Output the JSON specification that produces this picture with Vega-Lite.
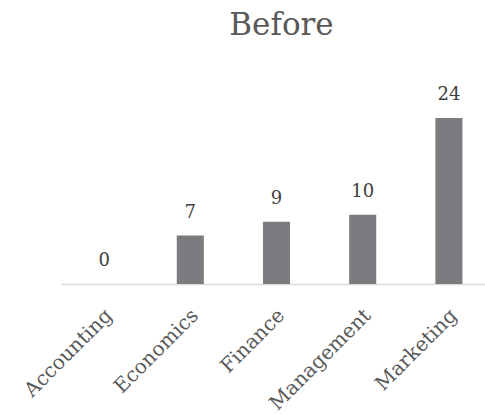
{
  "$schema": "https://vega.github.io/schema/vega-lite/v6.json",
  "autosize": "none",
  "width": 431,
  "height": 166,
  "padding": {"left": 61, "top": 118, "right": 0, "bottom": 131},
  "background": "white",
  "title": {
    "text": "Before",
    "font": "DejaVu Serif",
    "fontSize": 31,
    "fontWeight": "normal",
    "color": "#595959",
    "anchor": "middle",
    "baseline": "alphabetic",
    "frame": "group",
    "offset": 20,
    "dx": 5
  },
  "data": {
    "values": [
      {"dept": "Accounting", "count": 0},
      {"dept": "Economics", "count": 7},
      {"dept": "Finance", "count": 9},
      {"dept": "Management", "count": 10},
      {"dept": "Marketing", "count": 24}
    ]
  },
  "encoding": {
    "x": {
      "field": "dept",
      "type": "nominal",
      "sort": null,
      "scale": {"paddingInner": 0.686, "paddingOuter": 0.343},
      "axis": {
        "title": null,
        "labelAngle": -45,
        "labelAlign": "right",
        "labelBaseline": "middle",
        "labelFont": "DejaVu Serif",
        "labelFontSize": 20,
        "labelColor": "#595959",
        "labelPadding": 28,
        "labelOffset": 5,
        "labelOverlap": false,
        "ticks": false,
        "domainColor": "#d9d9d9",
        "domainWidth": 1.5,
        "grid": false
      }
    },
    "y": {
      "field": "count",
      "type": "quantitative",
      "scale": {"domain": [0, 24], "nice": false},
      "axis": null
    }
  },
  "layer": [
    {"mark": {"type": "bar", "color": "#7b7c80"}},
    {
      "mark": {
        "type": "text",
        "baseline": "alphabetic",
        "dy": -18,
        "font": "DejaVu Serif",
        "fontSize": 18,
        "color": "#404040"
      },
      "encoding": {"text": {"field": "count", "type": "quantitative"}}
    }
  ],
  "config": {"view": {"stroke": null}}
}
